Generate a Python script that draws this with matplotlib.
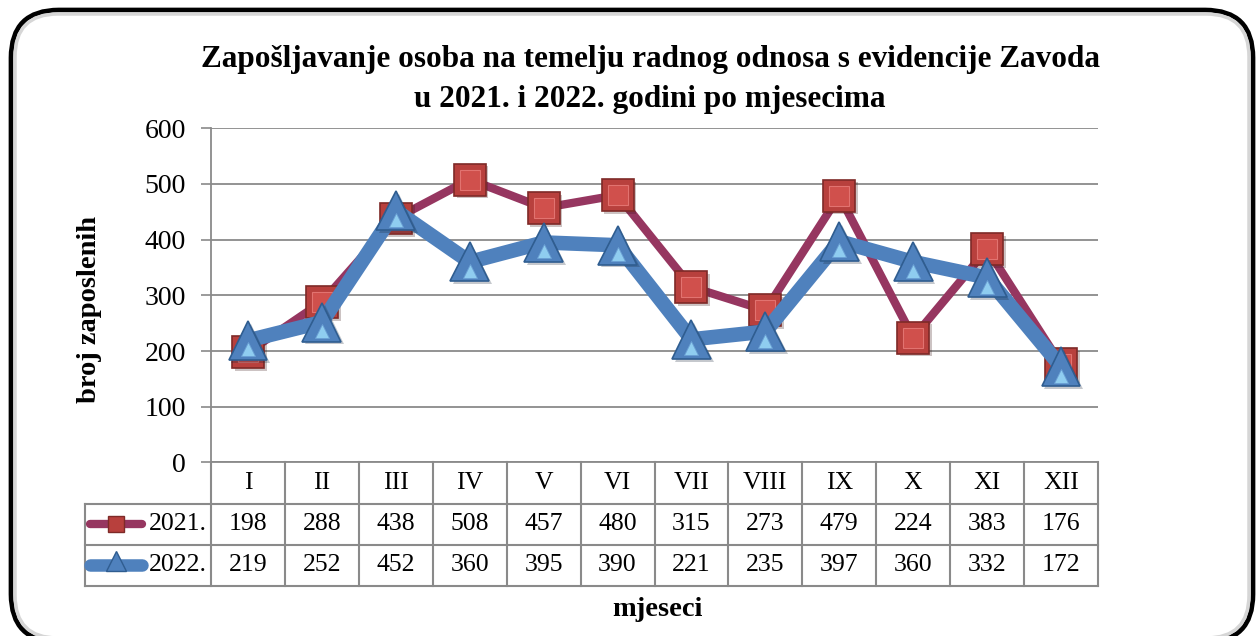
import matplotlib
matplotlib.use("Agg")
import matplotlib.pyplot as plt
from matplotlib.patches import FancyBboxPatch
from matplotlib.transforms import offset_copy
import matplotlib.patheffects as pe

# data
months = ["I", "II", "III", "IV", "V", "VI", "VII", "VIII", "IX", "X", "XI", "XII"]
y2021 = [198, 288, 438, 508, 457, 480, 315, 273, 479, 224, 383, 176]
y2022 = [219, 252, 452, 360, 395, 390, 221, 235, 397, 360, 332, 172]
series_names = ["2021.", "2022."]
yticks = [0, 100, 200, 300, 400, 500, 600]

title = "Zapošljavanje osoba na temelju radnog odnosa s evidencije Zavoda\nu 2021. i 2022. godini po mjesecima"

W, H = 1260, 636
plt.rcParams["font.family"] = "Liberation Serif"

fig = plt.figure(figsize=(W / 100, H / 100), dpi=100)


def rect(x0, y0, x1, y1):
    # pixel box -> figure fraction
    return [x0 / W, 1 - y1 / H, (x1 - x0) / W, (y1 - y0) / H]


# rounded frame with inner shading
frame = FancyBboxPatch((11 / W, -6 / H), 1242 / W, 632 / H,
                       boxstyle="round,pad=0,rounding_size=0.038",
                       transform=fig.transFigure, facecolor="white",
                       edgecolor="black", linewidth=3.4, zorder=1,
                       mutation_aspect=W / H)
fig.patches.append(frame)
inner = FancyBboxPatch((15 / W, -2 / H), 1234 / W, 624 / H,
                       boxstyle="round,pad=0,rounding_size=0.034",
                       transform=fig.transFigure, facecolor="none",
                       edgecolor="#d6d6d6", linewidth=2.5, zorder=1,
                       mutation_aspect=W / H)
fig.patches.append(inner)

grid_c = "#8a8a8a"
x = list(range(len(months)))

ax = fig.add_axes(rect(211, 128.3, 1098, 462.4))
ax.set_zorder(3)
ax.patch.set_alpha(0)
ax.set_xlim(-0.5, len(months) - 0.5)
ax.set_ylim(0, 600)
ax.set_yticks(yticks)
ax.set_xticks([])
ax.tick_params(axis="y", length=7, width=1.2, color=grid_c, labelsize=20, pad=11)
for s in ["top", "right"]:
    ax.spines[s].set_visible(False)
for s in ["left", "bottom"]:
    ax.spines[s].set_color(grid_c)
    ax.spines[s].set_linewidth(1.3)
ax.grid(axis="y", color=grid_c, linewidth=1.3)
ax.set_axisbelow(True)

shadow_fx = [pe.SimplePatchShadow(offset=(2, -2), alpha=0.25), pe.Normal()]

# 2021 series
ax.plot(x, y2021, color="#963660", linewidth=6, zorder=3, solid_capstyle="round")
ax.plot(x, y2021, linestyle="none", marker="s", markersize=23, markerfacecolor="#b8403d",
        markeredgecolor="#7e2a28", markeredgewidth=1.2, zorder=4, path_effects=shadow_fx)
ax.plot(x, y2021, linestyle="none", marker="s", markersize=14, markerfacecolor="#d0504c",
        markeredgecolor="#e27370", markeredgewidth=0.8, zorder=4)

# 2022 series
ax.plot(x, y2022, color="#4f81bd", linewidth=10.5, zorder=5, solid_capstyle="round")
ax.plot(x, y2022, linestyle="none", marker="^", markersize=28, markerfacecolor="#4f81bd",
        markeredgecolor="#2f5d90", markeredgewidth=1.2, zorder=6, path_effects=shadow_fx)
low = offset_copy(ax.transData, fig=fig, y=-9, units="dots")
ax.plot(x, y2022, linestyle="none", marker="^", markersize=10, markerfacecolor="#8fcdf0",
        markeredgecolor="#6a9fd4", markeredgewidth=0.6, zorder=6, transform=low)

for sp in ax.spines.values():
    sp.set_clip_on(False)

# data table below the axis
tab = fig.add_axes(rect(211, 462.4, 1098, 586))
tab.set_xlim(-0.5, len(months) - 0.5)
tab.set_ylim(3, 0)
tab.axis("off")
tab.set_zorder(2)
leg_left = -0.5 - (211 - 85) / 73.9
lw_t = 1.5
for k in range(len(months) + 1):
    tab.plot([k - 0.5, k - 0.5], [0, 3], color=grid_c, linewidth=lw_t, clip_on=False)
tab.plot([leg_left, leg_left], [1, 3], color=grid_c, linewidth=lw_t, clip_on=False)
for r in [1, 2, 3]:
    tab.plot([leg_left, len(months) - 0.5], [r, r], color=grid_c, linewidth=lw_t, clip_on=False)

fs_t = 18.5
for i, m in enumerate(months):
    tab.text(i, 0.5, m, ha="center", va="center", fontsize=fs_t)
    tab.text(i, 1.5, str(y2021[i]), ha="center", va="center", fontsize=fs_t)
    tab.text(i, 2.5, str(y2022[i]), ha="center", va="center", fontsize=fs_t)

lx0, lx1 = leg_left + 0.07, -1.43
lxm = (lx0 + lx1) / 2
tab.plot([lx0, lx1], [1.5, 1.5], color="#963660", linewidth=6, solid_capstyle="round", clip_on=False)
tab.plot([lxm], [1.5], marker="s", markersize=12, markerfacecolor="#b8403d",
         markeredgecolor="#7e2a28", clip_on=False)
tab.plot([lx0, lx1], [2.5, 2.5], color="#4f81bd", linewidth=9, solid_capstyle="round", clip_on=False)
tab.plot([lxm], [2.4], marker="^", markersize=15, markerfacecolor="#4f81bd",
         markeredgecolor="#2f5d90", clip_on=False)
tab.text(-0.56, 1.5, series_names[0], ha="right", va="center", fontsize=fs_t)
tab.text(-0.56, 2.5, series_names[1], ha="right", va="center", fontsize=fs_t)

fig.text(650 / W, 1 - 80 / H, title, ha="center", va="center", fontsize=22.5,
         fontweight="bold", linespacing=1.5)
fig.text(90 / W, 1 - 309 / H, "broj zaposlenih", ha="center", va="center", fontsize=20.5,
         fontweight="bold", rotation=90)
fig.text(657 / W, 1 - 610 / H, "mjeseci", ha="center", va="center", fontsize=20.5,
         fontweight="bold")

fig.savefig("out.png", dpi=100)
